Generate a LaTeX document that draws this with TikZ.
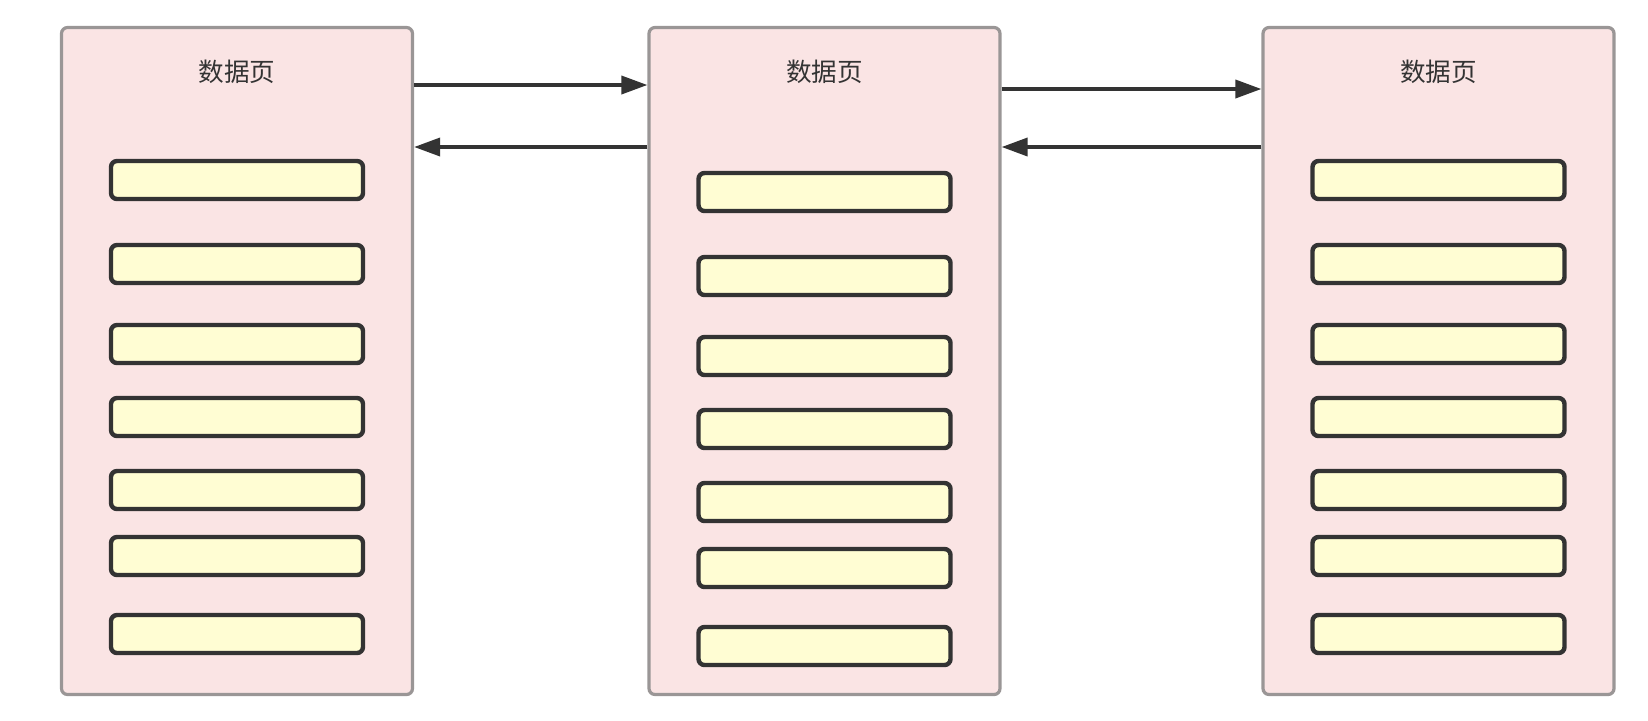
\documentclass[tikz,border=0pt]{standalone}
\usepackage{fontspec}
\newfontfamily\cjk{Noto Sans CJK SC}
\usetikzlibrary{arrows.meta}
\definecolor{pagefill}{HTML}{FAE4E4}
\definecolor{pageline}{HTML}{9A9696}
\definecolor{slotfill}{HTML}{FFFDD3}
\definecolor{ink}{HTML}{333333}
\begin{document}
\begin{tikzpicture}[x=0.5pt,y=-0.5pt]
\tikzset{base/.style={draw,rounded corners=3pt},
page/.style={base,draw=pageline,fill=pagefill,line width=1.6pt,minimum width=175.5pt,minimum height=333.5pt},
slot/.style={base,draw=ink,fill=slotfill,line width=2.2pt,minimum width=126pt,minimum height=19pt},
title/.style={font=\cjk\fontsize{12.8pt}{14pt}\selectfont,text=ink},
every path/.style={>={Triangle[length=13pt,width=9pt]}},link/.style={draw=ink,line width=1.8pt}}
\useasboundingbox (0,0) rectangle (1648,720);
\foreach \i/\x/\dy in {1/237/0,2/824.5/12,3/1438.5/0}{
  \node[page] at (\x,361) (p\i) {};
  \node[title] at (\x,72) (t\i) {数据页};
  \foreach \j/\y in {1/180,2/264,3/344,4/417,5/490,6/556,7/634}
    \node[slot] at (\x,\y+\dy) (p\i-\j) {};
}
\path[link,->] (p1.east |- 0,85) -- (p2.west |- 0,85);
\path[link,->] (p2.west |- 0,147) -- (p1.east |- 0,147);
\path[link,->] (p2.east |- 0,89) -- (p3.west |- 0,89);
\path[link,->] (p3.west |- 0,147) -- (p2.east |- 0,147);
\end{tikzpicture}
\end{document}
